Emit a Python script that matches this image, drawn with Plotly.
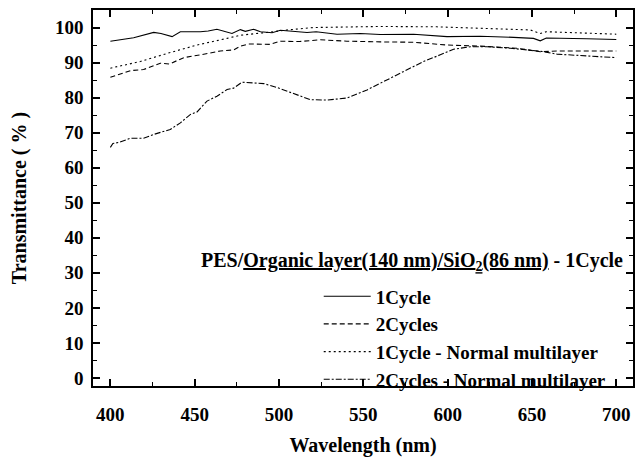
import plotly.graph_objects as go

# 1Cycle (solid)
wl_1c = [400, 413.8, 425.7, 430, 436.6, 441.5, 453.4, 458, 463.2, 472.1, 477.1, 480, 484.9, 489,
         495.9, 500.8, 516.6, 522, 534.4, 548.2, 560, 579.8, 599.6, 619.3, 639.1, 650.9, 654.9,
         658.5, 682.6, 700]
t_1c = [96.1, 97.1, 98.6, 98.3, 97.4, 98.8, 98.8, 99.0, 99.5, 98.3, 99.4, 98.9, 99.5, 98.8,
        98.5, 99.2, 98.6, 98.8, 98.1, 98.3, 98.0, 98.1, 97.4, 97.5, 97.2, 96.9, 96.2,
        97.0, 96.8, 96.6]

# 2Cycles (dashed)
wl_2c = [400, 411.9, 419.7, 429.6, 435, 443.5, 453.4, 465.2, 473.1, 477.1, 482, 494.8, 500.8,
         512, 524.5, 540.3, 560, 579.8, 599.6, 619.3, 641, 654.9, 664.8, 700]
t_2c = [85.8, 87.7, 88.0, 89.8, 89.6, 91.4, 92.2, 93.3, 93.6, 94.7, 95.3, 95.2, 96.1,
        96.0, 96.5, 96.1, 95.9, 95.8, 95.0, 94.7, 94.1, 93.1, 93.3, 93.3]

# 1Cycle - Normal multilayer (dotted)
wl_1n = [400, 417.8, 433.6, 451.4, 469.2, 477, 492.9, 504.7, 520.5, 560, 593.6, 623.3, 649,
         654.9, 658.5, 700]
t_1n = [88.4, 90.3, 92.6, 95.0, 96.9, 97.8, 98.6, 99.3, 100.0, 100.3, 100.2, 99.7, 99.3,
        98.3, 98.8, 98.1]

# 2Cycles - Normal multilayer (dash-dot)
wl_2n = [400, 401.5, 405, 411.9, 419.7, 425.7, 435.5, 441.5, 447.5, 451.4, 457.3, 463.2, 469.2,
         473.1, 478, 482.5, 490.9, 498.8, 506.7, 518.6, 528.5, 540.3, 552.2, 562, 573.9, 585.7,
         595.6, 603.5, 613.4, 623.3, 637.1, 650.9, 657, 664.8, 680.6, 700]
t_2n = [65.8, 66.9, 67.2, 68.4, 68.4, 69.5, 70.9, 72.8, 75.2, 75.9, 79.0, 80.4, 82.3,
        82.7, 84.4, 84.2, 84.0, 82.9, 81.5, 79.4, 79.3, 79.9, 82.2, 84.6, 87.5, 90.3,
        92.2, 93.8, 94.5, 94.5, 94.1, 93.3, 93.1, 92.4, 91.9, 91.4]

series_names = ["1Cycle", "2Cycles", "1Cycle - Normal multilayer", "2Cycles - Normal multilayer"]
legend_title = "PES/<u>Organic layer(140 nm)/SiO<sub>2</sub>(86 nm)</u> - 1Cycle"

FONT = "Liberation Serif"
fig = go.Figure()
styles = ["solid", "5px,3px", "2px,3px", "6px,2px,2px,2px"]
data = [(wl_1c, t_1c), (wl_2c, t_2c), (wl_1n, t_1n), (wl_2n, t_2n)]
for (x, y), name, dash in zip(data, series_names, styles):
    fig.add_trace(go.Scatter(x=x, y=y, mode="lines", name=name,
                             line=dict(color="black", width=1.1, dash=dash)))

axis_common = dict(
    showline=True, linecolor="black", linewidth=1.5, mirror="ticks",
    ticks="inside", ticklen=7, tickwidth=1.5, tickcolor="black",
    showgrid=False, zeroline=False,
    tickfont=dict(family=FONT, size=19, color="black", weight="bold"),
)
fig.update_xaxes(range=[389.7, 709.9], dtick=50, tick0=400,
                 minor=dict(ticks="inside", ticklen=4, tickwidth=1, tickcolor="black", dtick=25),
                 title=dict(text="Wavelength (nm)", font=dict(family=FONT, size=20, color="black", weight="bold"),
                            standoff=14),
                 ticklabelstandoff=10, **axis_common)
fig.update_yaxes(range=[-2.3, 105], dtick=10, tick0=0,
                 minor=dict(ticks="inside", ticklen=4, tickwidth=1, tickcolor="black", dtick=5),
                 title=dict(text="Transmittance ( % )", font=dict(family=FONT, size=20, color="black", weight="bold"),
                            standoff=23),
                 ticklabelstandoff=4, **axis_common)

fig.add_annotation(xref="paper", yref="paper", x=0.985, y=0.33, xanchor="right", yanchor="middle",
                   text=legend_title, showarrow=False,
                   font=dict(family=FONT, size=20, color="black", weight="bold"))

fig.update_layout(
    width=644, height=461,
    margin=dict(l=93, r=11, t=8, b=74),
    paper_bgcolor="white", plot_bgcolor="white",
    showlegend=True,
    legend=dict(x=0.418, y=0.289, xanchor="left", yanchor="top", bgcolor="rgba(0,0,0,0)",
                font=dict(family=FONT, size=19, color="black", weight="bold"),
                tracegroupgap=0, itemwidth=47),
)
fig.write_html("out.html", config={"displayModeBar": False},
               post_script="document.body.style.margin='0';document.documentElement.style.overflow='hidden';")
